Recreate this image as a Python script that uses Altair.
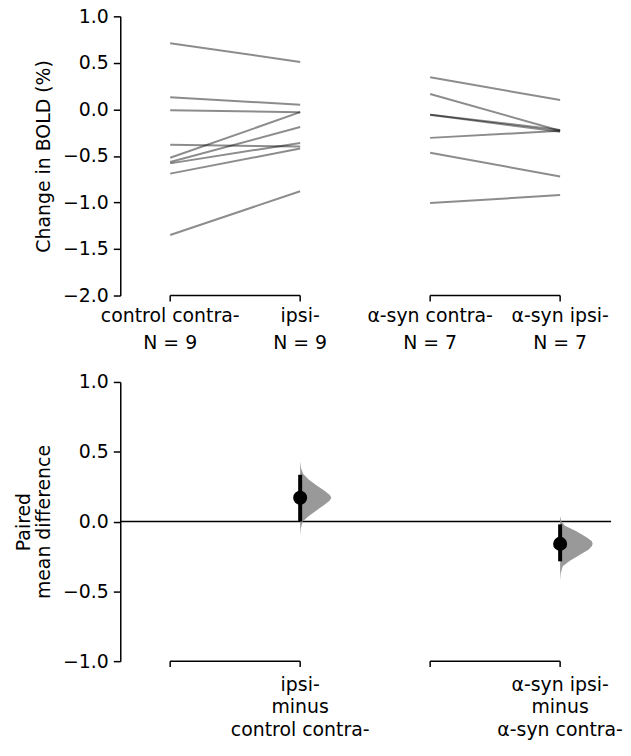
import altair as alt
import pandas as pd

# ---------------- data ----------------
groups = ["control contra-", "ipsi-", "α-syn contra-", "α-syn ipsi-"]
group_pos = [0, 1, 2, 3]
n_labels = ["N = 9", "N = 9", "N = 7", "N = 7"]

control_contra = [0.71, 0.13, -0.01, -0.38, -0.52, -0.565, -0.58, -0.69, -1.35]
control_ipsi = [0.51, 0.05, -0.03, -0.40, -0.03, -0.19, -0.36, -0.42, -0.88]
asyn_contra = [0.345, 0.166, -0.058, -0.058, -0.306, -0.466, -1.007]
asyn_ipsi = [0.10, -0.23, -0.22, -0.24, -0.23, -0.72, -0.92]

diff_labels = ["ipsi-\nminus\ncontrol contra-", "α-syn ipsi-\nminus\nα-syn contra-"]
diff_pos = [1, 3]
mean_diff = [0.17, -0.16]
ci_low = [0.0, -0.285]
ci_high = [0.335, -0.02]

# bootstrap distribution profiles (value, relative width)
violin1_y = [-0.10, -0.05, 0.00, 0.04, 0.08, 0.12, 0.15, 0.17, 0.19, 0.22, 0.26, 0.30, 0.34, 0.38, 0.43]
violin1_w = [0.00, 0.02, 0.08, 0.28, 0.52, 0.78, 0.95, 1.00, 0.95, 0.78, 0.52, 0.28, 0.10, 0.03, 0.00]
violin2_y = [-0.42, -0.37, -0.32, -0.28, -0.24, -0.20, -0.175, -0.157, -0.14, -0.11, -0.07, -0.03, 0.00, 0.04]
violin2_w = [0.00, 0.02, 0.08, 0.30, 0.60, 0.88, 0.98, 1.00, 0.97, 0.80, 0.50, 0.15, 0.04, 0.00]
violin_halfwidth = [0.24, 0.25]

brackets_start = [0, 2]
brackets_end = [1, 3]

FONT = "DejaVu Sans"
W, H = 494, 281
XDOM = [-0.384, 3.392]

# ---------------- tables ----------------
rows = []
for i, (a, b) in enumerate(zip(control_contra, control_ipsi)):
    rows.append({"subj": f"c{i}", "x": group_pos[0], "y": a})
    rows.append({"subj": f"c{i}", "x": group_pos[1], "y": b})
for i, (a, b) in enumerate(zip(asyn_contra, asyn_ipsi)):
    rows.append({"subj": f"a{i}", "x": group_pos[2], "y": a})
    rows.append({"subj": f"a{i}", "x": group_pos[3], "y": b})
lines_df = pd.DataFrame(rows)

top_labels = pd.DataFrame({"x": group_pos, "lab": [g + "\n" + n for g, n in zip(groups, n_labels)]})
br_df = pd.DataFrame({"x0": brackets_start, "x1": brackets_end})
br_ticks = pd.DataFrame({"x": brackets_start + brackets_end})

violin_dfs = []
for k, (vy, vw) in enumerate([(violin1_y, violin1_w), (violin2_y, violin2_w)]):
    violin_dfs.append(pd.DataFrame({
        "vy": vy,
        "vx0": [diff_pos[k]] * len(vy),
        "vx1": [diff_pos[k] + ww * violin_halfwidth[k] for ww in vw],
    }))

diff_df = pd.DataFrame({"x": diff_pos, "m": mean_diff, "lo": ci_low, "hi": ci_high, "lab": diff_labels})
zero_df = pd.DataFrame({"z": [0.0]})

xs = alt.Scale(domain=XDOM, nice=False, zero=False)


def yaxis(values, title, tx, lh=21):
    return alt.Axis(values=values, format=".1f", grid=False, domain=True, domainColor="black",
                    domainWidth=1.5, ticks=True, tickSize=7, tickWidth=1.5, tickColor="black",
                    labelFont=FONT, labelFontSize=19, labelColor="black", labelPadding=5,
                    title=title, titleFont=FONT, titleFontSize=19, titleFontWeight="normal",
                    titleColor="black", titleX=tx, titleBaseline="alphabetic", titleAngle=270,
                    titleLineHeight=lh)


# ---------------- top panel ----------------
ys_top = alt.Scale(domain=[-2, 1], nice=False, zero=False)
top_lines = alt.Chart(lines_df).mark_line(color="black", opacity=0.45, strokeWidth=2).encode(
    x=alt.X("x:Q", scale=xs, axis=None),
    y=alt.Y("y:Q", scale=ys_top,
            axis=yaxis([-2, -1.5, -1, -0.5, 0, 0.5, 1], "Change in BOLD (%)", -71)),
    detail="subj:N",
)
top_br = alt.Chart(br_df).mark_rule(color="black", strokeWidth=1.5).encode(
    x=alt.X("x0:Q", scale=xs, axis=None), x2="x1:Q", y=alt.value(H))
top_brt = alt.Chart(br_ticks).mark_rule(color="black", strokeWidth=1.5).encode(
    x=alt.X("x:Q", scale=xs, axis=None), y=alt.value(H), y2=alt.value(H + 6))
top_txt = alt.Chart(top_labels).mark_text(font=FONT, fontSize=19, lineBreak="\n", lineHeight=26.5,
                                          baseline="alphabetic", align="center", color="black").encode(
    x=alt.X("x:Q", scale=xs, axis=None), y=alt.value(308), text="lab:N")
top = alt.layer(top_lines, top_br, top_brt, top_txt).properties(width=W, height=H)

# ---------------- bottom panel ----------------
ys_bot = alt.Scale(domain=[-1, 1], nice=False, zero=False)
zero_rule = alt.Chart(zero_df).mark_rule(color="black", strokeWidth=1.5).encode(
    y=alt.Y("z:Q", scale=ys_bot,
            axis=yaxis([-1, -0.5, 0, 0.5, 1], ["Paired", "mean difference"], -91, 20)),
    x=alt.value(0), x2=alt.value(W))
violin_layers = [
    alt.Chart(vdf).mark_area(orient="horizontal", color="#939393", opacity=0.95).encode(
        y=alt.Y("vy:Q", scale=ys_bot),
        x=alt.X("vx0:Q", scale=xs, axis=None, stack=None), x2="vx1:Q")
    for vdf in violin_dfs
]
ci = alt.Chart(diff_df).mark_rule(color="black", strokeWidth=4).encode(
    x=alt.X("x:Q", scale=xs, axis=None), y=alt.Y("lo:Q", scale=ys_bot), y2="hi:Q")
pts = alt.Chart(diff_df).mark_circle(color="black", size=200, opacity=1).encode(
    x=alt.X("x:Q", scale=xs, axis=None), y=alt.Y("m:Q", scale=ys_bot))
bot_br = alt.Chart(br_df).mark_rule(color="black", strokeWidth=1.5).encode(
    x=alt.X("x0:Q", scale=xs, axis=None), x2="x1:Q", y=alt.value(H))
bot_brt = alt.Chart(br_ticks).mark_rule(color="black", strokeWidth=1.5).encode(
    x=alt.X("x:Q", scale=xs, axis=None), y=alt.value(H), y2=alt.value(H + 6))
bot_txt = alt.Chart(diff_df).mark_text(font=FONT, fontSize=19, lineBreak="\n", lineHeight=22.5,
                                       baseline="alphabetic", align="center", color="black").encode(
    x=alt.X("x:Q", scale=xs, axis=None), y=alt.value(311), text="lab:N")
bottom = alt.layer(zero_rule, *violin_layers, ci, pts, bot_br, bot_brt, bot_txt).properties(width=W, height=H)

chart = alt.vconcat(top, bottom, spacing=87, bounds="flush").resolve_scale(y="independent").properties(
    padding={"left": 7, "top": -3, "right": 0, "bottom": 0},
    background="white",
).configure_view(stroke=None)

chart.save("out.html", embed_options={"renderer": "svg", "actions": False})
